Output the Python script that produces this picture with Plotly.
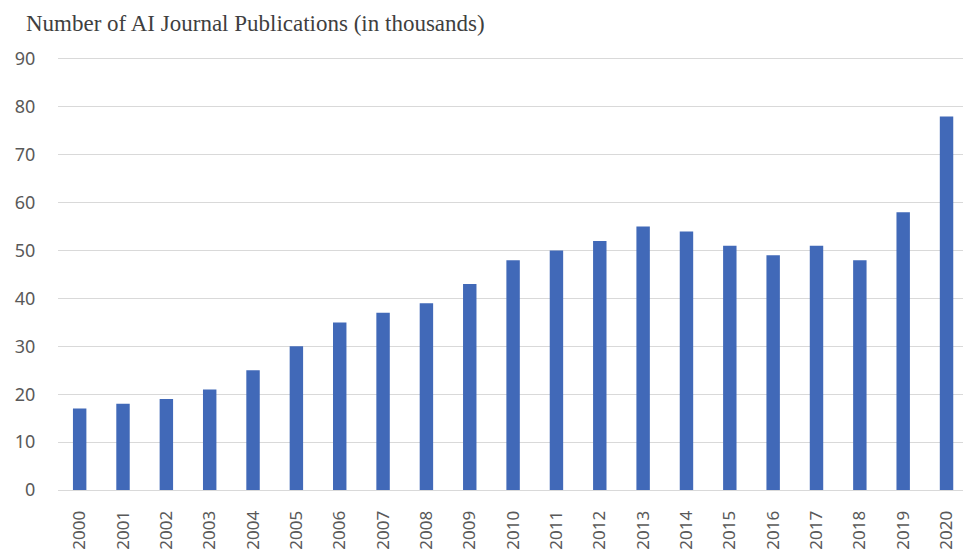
import plotly.graph_objects as go

years = [str(y) for y in range(2000, 2021)]
pubs = [17, 18, 19, 21, 25, 30, 35, 37, 39, 43, 48, 50, 52, 55, 54, 51, 49, 51, 48, 58, 78]
title_text = "Number of AI Journal Publications (in thousands)"
y_ticks = list(range(0, 91, 10))

L, T, B = 58, 57, 57
H, W = 550, 963
plot_h = H - T - B
y_top = 90 * (493 - T) / (493 - 59)

fig = go.Figure(go.Bar(
    x=list(range(len(years))), y=pubs,
    marker=dict(color="#4169B8", line=dict(width=0)),
    width=0.31,
))

fig.update_layout(
    width=W, height=H,
    margin=dict(l=L, r=0, t=T, b=B),
    paper_bgcolor="white", plot_bgcolor="white",
    showlegend=False,
    annotations=[dict(
        text=title_text, xref="paper", yref="paper",
        x=(24 - L) / (W - L), y=1 + (T - 23) / plot_h,
        showarrow=False, xanchor="left", yanchor="middle",
        font=dict(family="Liberation Serif", size=23, color="#3f3f3f"),
    )],
)

fig.update_xaxes(
    tickmode="array", tickvals=list(range(len(years))), ticktext=years,
    range=[-0.5, 20.38], tickangle=-90,
    showgrid=False, showline=False, zeroline=False,
    ticks="outside", ticklen=13, tickcolor="rgba(0,0,0,0)",
    tickfont=dict(family="Noto Sans", size=17, color="#595959"),
)
fig.update_yaxes(
    range=[0, y_top], tickvals=y_ticks,
    showgrid=True, gridcolor="#d9d9d9", gridwidth=1,
    zeroline=True, zerolinecolor="#d9d9d9", zerolinewidth=1,
    showline=False,
    ticks="outside", ticklen=18, tickcolor="rgba(0,0,0,0)",
    tickfont=dict(family="Noto Sans", size=18, color="#595959"),
)

fig.write_html("out.html", config={"displayModeBar": False},
               post_script="document.body.style.margin='0';")
